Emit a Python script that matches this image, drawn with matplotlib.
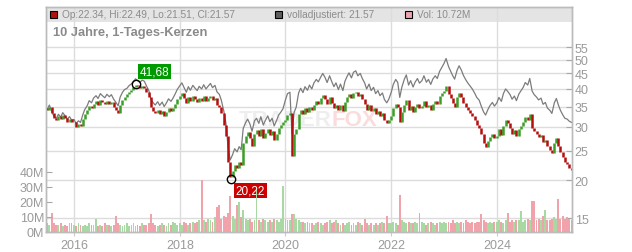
import matplotlib
matplotlib.use('Agg')
import matplotlib.pyplot as plt
from matplotlib.patches import Rectangle
from matplotlib.ticker import FixedLocator, NullLocator
import numpy as np
import pandas as pd

plt.rcParams['font.family'] = ['Liberation Sans', 'DejaVu Sans']

# semi-monthly samples (1st and 15th)
dates = pd.date_range('2015-06-15', '2025-06-01', freq='SMS')

close = [
    34.5, 34.0, 35.0, 33.2, 32.0, 31.5, 32.6, 31.8, 32.9, 32.0, 31.2, 31.8, 31.0,  # 2015
    31.0, 30.0, 30.6, 30.2, 31.8, 33.0, 34.0, 35.2, 34.6, 35.8, 36.4, 35.5,
    36.8, 36.2, 35.6, 36.5, 35.8, 36.3, 35.0, 34.2, 33.2, 35.5, 36.8, 37.5,  # 2016
    38.5, 39.2, 39.8, 40.6, 41.3, 40.8, 40.2, 40.9, 40.4, 39.0, 37.5, 35.0,
    33.8, 33.2, 34.0, 33.0, 33.8, 32.6, 33.5, 34.5, 33.8, 34.6, 35.8, 37.0,  # 2017
    38.0, 38.8, 37.2, 36.0, 37.5, 36.4, 37.8, 37.0, 36.2, 37.4, 36.6, 37.8,
    36.5, 37.2, 38.0, 36.8, 37.4, 35.5, 34.8, 33.2, 30.5, 28.0, 23.0, 20.5,  # 2018
    21.5, 22.5, 22.0, 23.0, 22.5, 26.5, 28.0, 28.8, 27.5, 26.0, 28.5, 29.2,
    28.0, 29.5, 27.5, 28.6, 29.6, 28.2, 29.0, 27.2, 28.5, 29.8, 30.5, 31.2,  # 2019
    31.5, 32.8, 33.2, 24.0, 28.5, 29.5, 33.0, 34.2, 33.0, 34.6, 33.6, 35.0,
    34.0, 35.5, 36.5, 35.8, 37.2, 38.2, 37.0, 35.6, 37.5, 36.0, 34.5, 35.5,  # 2020
    34.0, 35.5, 33.8, 36.2, 37.5, 38.6, 37.2, 38.8, 39.2, 37.8, 38.5, 37.0,
    35.8, 34.2, 35.5, 33.8, 34.6, 33.0, 33.8, 32.5, 33.2, 31.5, 30.8, 31.6,  # 2021
    32.5, 34.5, 35.8, 35.0, 31.0, 33.5, 35.5, 36.8, 34.0, 35.2, 33.5, 34.8,
    35.8, 34.5, 35.2, 36.5, 34.8, 35.5, 34.2, 35.6, 36.5, 35.8, 37.8, 38.8,  # 2022
    39.5, 41.0, 38.5, 37.2, 36.0, 35.0, 37.5, 38.8, 37.5, 36.0, 34.8, 34.0,
    33.2, 32.5, 31.5, 30.5, 29.8, 28.5, 26.5, 25.8, 27.0, 27.8, 28.4, 27.6,  # 2023
    28.0, 29.5, 28.2, 30.2, 31.5, 30.8, 29.8, 28.5, 29.2, 28.0, 29.5, 30.2,
    31.0, 32.2, 31.5, 33.0, 29.8, 29.0, 28.5, 27.8, 28.2, 26.8, 27.2, 26.0,  # 2024
    25.2, 24.5, 26.5, 27.5, 26.0, 24.8, 23.8, 23.0, 22.6, 22.0, 21.6,  # 2025
]

adjusted = [
    34.8, 34.4, 35.4, 33.6, 32.5, 32.0, 33.0, 32.3, 33.4, 32.6, 31.8, 32.4, 31.6,
    31.7, 30.8, 31.4, 31.0, 32.8, 34.2, 35.2, 36.6, 36.0, 37.3, 38.0, 37.2,
    38.6, 38.0, 37.4, 38.4, 37.7, 38.3, 37.0, 36.2, 35.2, 37.6, 39.0, 39.8,
    40.2, 41.0, 41.6, 42.4, 43.2, 42.6, 42.0, 42.8, 42.4, 41.0, 39.5, 37.0,
    36.0, 35.4, 36.3, 35.3, 36.2, 35.0, 36.0, 37.1, 36.4, 37.3, 38.6, 39.9,
    41.0, 41.9, 40.3, 39.0, 40.7, 39.6, 41.1, 40.3, 39.5, 40.8, 40.0, 41.3,
    40.0, 40.8, 41.7, 40.4, 41.1, 39.1, 38.4, 36.7, 33.8, 31.0, 25.6, 23.3,
    24.3, 25.4, 24.8, 25.8, 25.2, 29.6, 31.0, 31.8, 30.6, 29.0, 31.4, 32.0,
    30.8, 32.4, 30.4, 31.5, 32.6, 31.2, 32.0, 30.2, 31.5, 32.8, 33.6, 34.4,
    36.8, 38.6, 39.0, 28.4, 33.5, 34.8, 38.8, 40.2, 38.9, 40.7, 39.6, 41.2,
    40.0, 41.8, 43.0, 42.2, 43.8, 45.0, 43.6, 42.0, 44.2, 42.4, 40.7, 41.9,
    39.8, 41.5, 39.5, 42.4, 43.9, 45.2, 43.5, 45.4, 45.9, 44.2, 45.0, 43.3,
    41.9, 40.0, 41.5, 39.5, 40.5, 38.6, 39.5, 38.0, 38.8, 36.9, 36.0, 37.0,
    39.0, 41.4, 43.0, 42.0, 37.5, 40.5, 43.0, 44.5, 41.2, 42.6, 40.6, 42.1,
    43.3, 41.8, 42.6, 44.2, 42.1, 43.0, 41.4, 43.1, 44.2, 43.3, 45.7, 47.0,
    48.6, 50.4, 47.4, 45.8, 44.3, 43.1, 46.1, 47.7, 46.1, 44.3, 42.8, 41.8,
    40.8, 40.0, 38.7, 37.5, 36.7, 35.1, 33.6, 32.8, 34.3, 35.3, 36.1, 35.1,
    36.0, 37.5, 36.4, 38.6, 40.0, 39.3, 38.3, 37.0, 37.9, 36.6, 38.5, 39.4,
    40.5, 42.0, 41.2, 43.3, 39.3, 38.3, 37.6, 36.8, 37.3, 35.6, 36.1, 34.6,
    34.0, 33.2, 36.0, 37.2, 35.4, 34.0, 32.8, 32.0, 31.8, 31.3, 31.0,
]

# volume in millions
volume = [
    5, 6, 5, 13, 6, 5, 5, 6, 4, 5, 4, 6, 6,
    5, 4, 6, 5, 4, 5, 4, 6, 5, 5, 9, 4, 5, 4, 6, 5, 5, 4, 5, 11, 6, 5, 4, 5,
    6, 4, 5, 6, 4, 5, 4, 6, 5, 5, 6, 12, 6, 5, 4, 5, 6, 5, 4, 6, 5, 7, 6, 5,
    6, 5, 7, 6, 5, 6, 7, 6, 7, 8, 35, 8, 7, 9, 8, 7, 10, 17, 18, 9, 11, 10, 13, 24,
    11, 9, 18, 20, 10, 15, 9, 8, 9, 7, 8, 28, 8, 7, 9, 8, 7, 8, 7, 9, 8, 7, 9, 31,
    9, 8, 8, 12, 12, 9, 8, 7, 7, 6, 7, 6, 6, 5, 6, 7, 6, 5, 6, 7, 8, 6, 7, 8,
    6, 5, 6, 5, 6, 7, 5, 6, 5, 7, 6, 5, 9, 6, 5, 6, 5, 6, 5, 6, 7, 6, 11, 6,
    6, 7, 6, 5, 25, 8, 7, 6, 7, 6, 6, 7, 6, 13, 7, 6, 5, 6, 7, 6, 5, 6, 7, 6,
    7, 6, 7, 6, 8, 6, 7, 6, 7, 6, 8, 7, 6, 7, 6, 7, 7, 12, 8, 7, 6, 7, 6, 7,
    7, 8, 7, 6, 8, 13, 7, 8, 7, 8, 8, 14, 7, 8, 9, 8, 21, 21, 8, 9, 8, 11, 15, 8,
    8, 9, 10, 9, 22, 9, 11, 9, 10, 9, 8,
]

price_ticks = [15, 20, 25, 30, 35, 40, 45, 50, 55]
volume_ticks = [0, 10, 20, 30, 40]
year_ticks = ['2016', '2018', '2020', '2022', '2024']

high_date, high_value = '2017-03-01', 41.68
low_date, low_value = '2018-12-24', 20.22

RED = '#b40f0f'
GREEN = '#3a9e28'
VOL_RED = '#f0a3aa'
VOL_GREEN = '#a9d9a2'
LABEL = '#9a9a9a'
GRID = '#dcdcdc'

close = np.array(close)
adjusted = np.array(adjusted)
volume = np.array(volume)
opens = np.concatenate([[close[0]], close[:-1]])
up = close >= opens

fig = plt.figure(figsize=(6.32, 2.53), dpi=100)
ax = fig.add_axes([45.5 / 632, 20 / 253, 526.5 / 632, 225 / 253])
axv = ax.twinx()

# price (log, right side)
ax.set_yscale('log')
ax.set_ylim(13.49, 74.55)
ax.set_xlim(pd.Timestamp('2015-06-18'), pd.Timestamp('2025-06-03'))
ax.set_axisbelow(True)
ax.plot(dates, adjusted, color='#7c7c7c', lw=0.9, zorder=2)
ax.vlines(dates, np.minimum(opens, close), np.maximum(opens, close),
          colors=np.where(up, GREEN, RED), lw=1.8, zorder=3)

ax.yaxis.tick_right()
ax.yaxis.set_major_locator(FixedLocator(price_ticks))
ax.yaxis.set_minor_locator(NullLocator())
ax.set_yticklabels([str(t) for t in price_ticks])
ax.set_xticks([pd.Timestamp(y + '-01-01') for y in year_ticks])
ax.set_xticklabels(year_ticks)
ax.grid(True, color=GRID, lw=1)
ax.tick_params(axis='y', which='both', direction='in', length=4, color='#a8a8a8',
               labelcolor=LABEL, labelsize=9, pad=2)
ax.tick_params(axis='x', direction='out', length=3, color='#cccccc',
               labelcolor=LABEL, labelsize=9, pad=2)

# volume (linear, left side)
axv.bar(dates, volume, width=13, color=np.where(up, VOL_GREEN, VOL_RED), lw=0, zorder=1)
axv.set_ylim(0, 150)
axv.yaxis.tick_left()
axv.set_yticks(volume_ticks)
axv.set_yticklabels([f'{v}M' for v in volume_ticks])
axv.tick_params(axis='y', direction='in', length=4, color='#a8a8a8',
                labelcolor=LABEL, labelsize=9, pad=1)

for a in (ax, axv):
    for s in a.spines.values():
        s.set_color('#bbbbbb')
        s.set_linewidth(1)

# header band and legend
ax.add_patch(Rectangle((0, 0.9347), 1, 0.0653, transform=ax.transAxes,
                       fc='#e4e4e4', ec='none', zorder=0.3))
legend = [(0.00855, RED, 'Op:22.34, Hi:22.49, Lo:21.51, Cl:21.57'),
          (0.4359, '#5e5e5e', 'volladjustiert: 21.57'),
          (0.6828, '#eaa4ac', 'Vol: 10.72M')]
for x0, col, txt in legend:
    ax.add_patch(Rectangle((x0, 0.9511), 0.0133, 0.0311, transform=ax.transAxes,
                           fc=col, ec='black', lw=0.8, zorder=4))
    ax.text(x0 + 0.0228, 0.9667, txt, transform=ax.transAxes, ha='left', va='center',
            fontsize=7.3, color='#8c8c8c', zorder=4)

ax.text(0.0148, 0.887, '10 Jahre, 1-Tages-Kerzen', transform=ax.transAxes,
        ha='left', va='center', fontsize=9.3, fontweight='bold', color='#8a8a8a')

# watermark
ax.text(0.544, 0.4756, 'TRADER', transform=ax.transAxes, ha='right', va='baseline',
        fontsize=16, fontweight='bold', color='#eeeeee', zorder=0.4)
ax.text(0.544, 0.4756, 'FOX', transform=ax.transAxes, ha='left', va='baseline',
        fontsize=16, fontweight='bold', color='#fadcdc', zorder=0.4)

# high / low markers
for d, v, col, off, va in [(high_date, high_value, '#009a00', (3, 4.5), 'bottom'),
                           (low_date, low_value, '#cc0000', (3.2, -4.3), 'top')]:
    ax.plot(pd.Timestamp(d), v, 'o', ms=6, mfc='none', mec='black', mew=1, zorder=5)
    ax.annotate(f'{v:.2f}'.replace('.', ','), (pd.Timestamp(d), v), xytext=off,
                textcoords='offset points', ha='left', va=va, color='white', fontsize=8.5,
                bbox=dict(boxstyle='square,pad=0.15', fc=col, ec='none'), zorder=6)

fig.savefig('out.png', dpi=100)
